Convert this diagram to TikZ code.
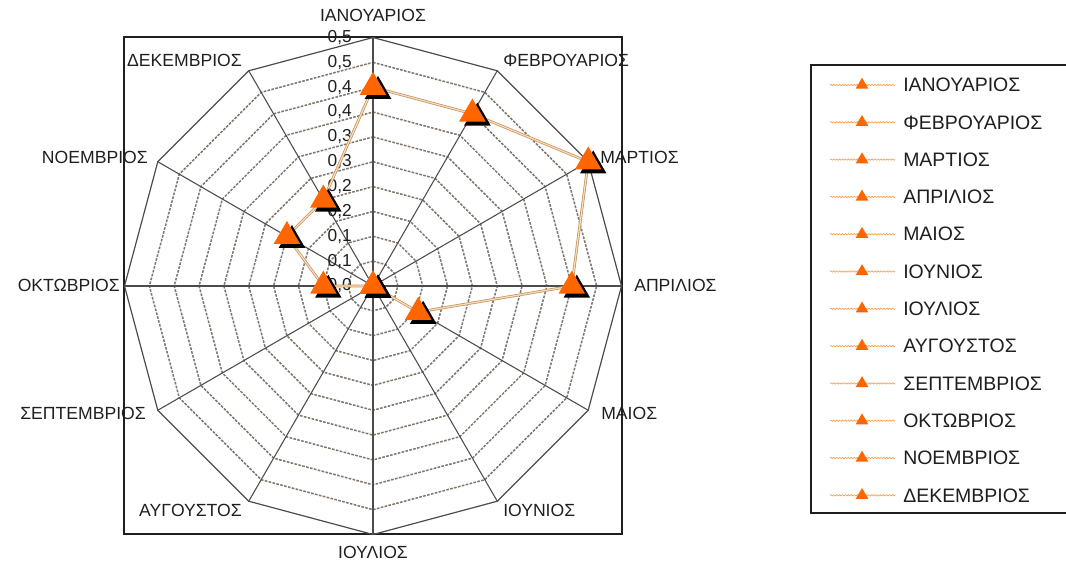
\documentclass[tikz,border=0pt]{standalone}
\usepackage{fontspec}
\setmainfont{Liberation Sans}
\usepackage{tikz}
\usetikzlibrary{shapes.geometric, decorations.pathmorphing}
\usepackage{xcolor}
\definecolor{markorange}{rgb}{1,0.4,0}
\definecolor{txtgray}{rgb}{0.12,0.12,0.12}
\definecolor{spokegray}{rgb}{0.3,0.3,0.3}
\definecolor{ringgray}{rgb}{0.5,0.47,0.43}
\definecolor{serietan}{rgb}{0.74,0.58,0.42}
\definecolor{serielight}{rgb}{1,0.86,0.68}
\definecolor{legorange}{rgb}{1,0.62,0.3}

\begin{document}
\begin{tikzpicture}[
    x=0.75pt, y=-0.75pt,
    frame/.style={draw=txtgray, line width=1pt},
    spoke/.style={draw=spokegray, line width=0.8pt},
    ring/.style={draw=ringgray, line width=1.15pt, dash pattern=on 2pt off 1pt},
    outerring/.style={draw=spokegray, line width=0.9pt},
    serie/.style={draw=serietan, double=serielight, double distance=0.9pt, line width=0.55pt},
    tri/.style={regular polygon, regular polygon sides=3, inner sep=0pt, minimum size=23pt, fill=markorange},
    trishadow/.style={tri, fill=black},
    ticklbl/.style={font=\fontsize{13pt}{15pt}\selectfont, text=txtgray, inner sep=0pt, anchor=east},
    monthlbl/.style={font=\fontsize{13.2pt}{15pt}\selectfont, text=txtgray, inner sep=0pt},
    legline/.style={draw=legorange, line width=0.5pt, decorate, decoration={snake, amplitude=0.5pt, segment length=2.2pt}},
    legtri/.style={regular polygon, regular polygon sides=3, inner sep=0pt, minimum size=11pt, fill=markorange},
    legtext/.style={font=\fontsize{14.6pt}{17pt}\selectfont, text=txtgray, inner sep=0pt, anchor=west}
]
\useasboundingbox (0,0) rectangle (1066,565);

% Plot area
\draw[frame] (124,37) rectangle (622,534);

\begin{scope}[shift={(373,286)}]
% Grid
\coordinate (O) at (0,0);
\foreach \k in {0,...,11}
    \coordinate (v\k) at ({-90+30*\k}:248.5);
\foreach \i in {1,...,9}
    \draw[ring] ({-90}:{\i*24.85}) \foreach \k in {1,...,11}{ -- ({-90+30*\k}:{\i*24.85})} -- cycle;
\draw[outerring] (v0) \foreach \k in {1,...,11}{ -- (v\k)} -- cycle;
\foreach \k in {0,...,11}
    \draw[spoke] (O) -- (v\k);

% Scale labels
\foreach \i/\d in {0/0,1/1,2/1,3/2,4/2,5/3,6/3,7/4,8/4,9/5,10/5}
    \node[ticklbl] (t\i) at (-21,{-\i*24.85}) {0,\d};

% Data
\foreach \k/\v in {0/0.4,1/0.4,2/0.5,3/0.4,4/0.105,5/0,6/0,7/0,8/0,9/0.1,10/0.2,11/0.2}
    \coordinate (d\k) at ({-90+30*\k}:{\v*497});
\draw[serie] (d0) \foreach \k in {1,...,11}{ -- (d\k)} -- cycle;
\foreach \k in {0,...,11}{
    \node[trishadow] (s\k) at ([shift={(5,4)}]d\k) {};
    \node[tri] (m\k) at (d\k) {};
}
\end{scope}

% Month labels
\node[monthlbl] (jan) at (373,15) {ΙΑΝΟΥΑΡΙΟΣ};
\node[monthlbl, anchor=west] (feb) at (503,60) {ΦΕΒΡΟΥΑΡΙΟΣ};
\node[monthlbl, anchor=west] (mar) at (600,157) {ΜΑΡΤΙΟΣ};
\node[monthlbl, anchor=west] (apr) at (634,285) {ΑΠΡΙΛΙΟΣ};
\node[monthlbl, anchor=west] (may) at (601,413) {ΜΑΙΟΣ};
\node[monthlbl, anchor=west] (jun) at (503,510) {ΙΟΥΝΙΟΣ};
\node[monthlbl] (jul) at (373,552) {ΙΟΥΛΙΟΣ};
\node[monthlbl, anchor=east] (aug) at (242,510) {ΑΥΓΟΥΣΤΟΣ};
\node[monthlbl, anchor=east] (sep) at (146,413) {ΣΕΠΤΕΜΒΡΙΟΣ};
\node[monthlbl, anchor=east] (oct) at (120,285) {ΟΚΤΩΒΡΙΟΣ};
\node[monthlbl, anchor=east] (nov) at (148,157) {ΝΟΕΜΒΡΙΟΣ};
\node[monthlbl, anchor=east] (dec) at (242,60) {ΔΕΚΕΜΒΡΙΟΣ};

% Legend
\draw[frame, line width=0.9pt] (1067,65) -- (811,65) -- (811,513) -- (1067,513);
\foreach \k/\name in {0/ΙΑΝΟΥΑΡΙΟΣ,1/ΦΕΒΡΟΥΑΡΙΟΣ,2/ΜΑΡΤΙΟΣ,3/ΑΠΡΙΛΙΟΣ,4/ΜΑΙΟΣ,5/ΙΟΥΝΙΟΣ,6/ΙΟΥΛΙΟΣ,7/ΑΥΓΟΥΣΤΟΣ,8/ΣΕΠΤΕΜΒΡΙΟΣ,9/ΟΚΤΩΒΡΙΟΣ,10/ΝΟΕΜΒΡΙΟΣ,11/ΔΕΚΕΜΒΡΙΟΣ}{
    \coordinate (la\k) at (830,{85+37.3*\k});
    \coordinate (lb\k) at (895,{85+37.3*\k});
    \draw[legline] (la\k) -- (lb\k);
    \node[legtri] (lm\k) at (862,{85+37.3*\k}) {};
    \node[legtext] (lt\k) at (903,{85+37.3*\k}) {\name};
}
\end{tikzpicture}
\end{document}
